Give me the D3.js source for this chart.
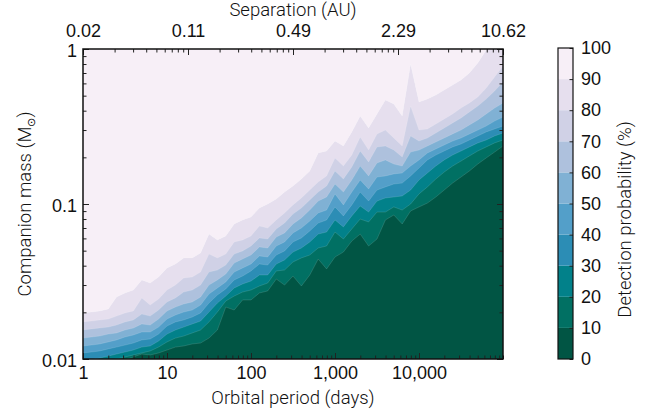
<!DOCTYPE html>
<html>
<head>
<meta charset="utf-8">
<script src="https://cdn.jsdelivr.net/npm/d3@7"></script>
<style>
  body { margin: 0; background: #fff; }
  svg { font-family: Roboto, "Liberation Sans", Arial, sans-serif; font-weight: 300; }
</style>
</head>
<body>
<figure style="margin:0"></figure>
<script>
// orbital periods (days) where the contour boundaries were read
const periods = [1, 1.26, 1.58, 2, 2.51, 3.16, 3.98, 5.01, 6.31, 7.94,
  10, 12.6, 15.8, 20, 25.1, 31.6, 39.8, 50.1, 63.1, 79.4,
  100, 126, 158, 200, 251, 316, 398, 501, 631, 794,
  1000, 1259, 1585, 1995, 2512, 3162, 3981, 5012, 6310, 7943,
  10000, 12589, 15849, 19953, 25119, 31623, 39811, 50119, 63096, 79433, 100000];

// log10 companion mass (Msun) of each probability contour
const logMass10 = [-2.168, -2.123, -2.084, -2.052, -2.026, -2.006, -1.987, -1.968, -1.974, -1.961,
  -1.942, -1.923, -1.916, -1.903, -1.897, -1.865, -1.813, -1.665, -1.684, -1.619,
  -1.619, -1.574, -1.561, -1.484, -1.523, -1.465, -1.529, -1.458, -1.355, -1.419,
  -1.342, -1.310, -1.239, -1.194, -1.271, -1.226, -1.103, -1.071, -1.129, -1.045,
  -1.019, -0.994, -0.955, -0.910, -0.865, -0.826, -0.787, -0.742, -0.703, -0.665, -0.626];
const logMass20 = [-2.077, -2.052, -2.032, -2.013, -2.000, -1.987, -1.974, -1.961, -1.948, -1.923,
  -1.890, -1.865, -1.852, -1.832, -1.813, -1.761, -1.697, -1.626, -1.594, -1.568,
  -1.555, -1.529, -1.510, -1.432, -1.426, -1.374, -1.348, -1.329, -1.284, -1.271,
  -1.181, -1.226, -1.161, -1.097, -1.116, -1.052, -1.052, -1.019, -1.039, -1.000,
  -0.935, -0.890, -0.839, -0.794, -0.755, -0.723, -0.690, -0.658, -0.632, -0.606, -0.587];
const logMass30 = [-2.013, -2.006, -1.994, -1.981, -1.968, -1.955, -1.942, -1.923, -1.916, -1.884,
  -1.839, -1.813, -1.794, -1.774, -1.755, -1.697, -1.639, -1.594, -1.542, -1.516,
  -1.497, -1.458, -1.458, -1.387, -1.361, -1.310, -1.284, -1.245, -1.194, -1.181,
  -1.103, -1.148, -1.077, -1.013, -1.052, -0.981, -0.961, -0.955, -0.948, -0.910,
  -0.845, -0.800, -0.755, -0.716, -0.684, -0.658, -0.632, -0.606, -0.587, -0.561, -0.542];
const logMass40 = [-1.961, -1.955, -1.948, -1.935, -1.923, -1.910, -1.897, -1.877, -1.871, -1.839,
  -1.787, -1.761, -1.748, -1.729, -1.703, -1.639, -1.587, -1.548, -1.490, -1.465,
  -1.432, -1.387, -1.394, -1.329, -1.303, -1.245, -1.219, -1.174, -1.123, -1.103,
  -1.019, -1.077, -1.006, -0.923, -0.981, -0.910, -0.890, -0.871, -0.865, -0.819,
  -0.768, -0.716, -0.684, -0.658, -0.632, -0.613, -0.587, -0.561, -0.535, -0.516, -0.497];
const logMass50 = [-1.916, -1.910, -1.903, -1.890, -1.877, -1.858, -1.845, -1.826, -1.826, -1.794,
  -1.742, -1.716, -1.697, -1.684, -1.652, -1.581, -1.542, -1.503, -1.439, -1.413,
  -1.387, -1.335, -1.342, -1.271, -1.245, -1.187, -1.155, -1.110, -1.058, -1.039,
  -0.935, -1.006, -0.923, -0.845, -0.903, -0.826, -0.819, -0.806, -0.800, -0.755,
  -0.716, -0.671, -0.645, -0.619, -0.594, -0.574, -0.548, -0.523, -0.497, -0.465, -0.439];
const logMass60 = [-1.865, -1.858, -1.852, -1.839, -1.832, -1.813, -1.800, -1.774, -1.781, -1.742,
  -1.690, -1.665, -1.645, -1.632, -1.600, -1.523, -1.490, -1.452, -1.381, -1.355,
  -1.329, -1.277, -1.284, -1.213, -1.187, -1.129, -1.090, -1.039, -0.981, -0.955,
  -0.871, -0.923, -0.845, -0.755, -0.819, -0.735, -0.716, -0.742, -0.755, -0.665,
  -0.652, -0.626, -0.600, -0.574, -0.548, -0.523, -0.490, -0.458, -0.419, -0.381, -0.348];
const logMass70 = [-1.813, -1.806, -1.800, -1.794, -1.781, -1.761, -1.748, -1.710, -1.723, -1.684,
  -1.632, -1.606, -1.568, -1.555, -1.523, -1.439, -1.426, -1.394, -1.323, -1.303,
  -1.271, -1.219, -1.226, -1.161, -1.123, -1.065, -1.026, -0.974, -0.923, -0.884,
  -0.787, -0.839, -0.761, -0.658, -0.729, -0.632, -0.626, -0.652, -0.697, -0.561,
  -0.594, -0.574, -0.542, -0.510, -0.477, -0.445, -0.406, -0.368, -0.323, -0.271, -0.213];
const logMass80 = [-1.761, -1.755, -1.748, -1.742, -1.723, -1.703, -1.690, -1.606, -1.652, -1.613,
  -1.555, -1.523, -1.477, -1.471, -1.439, -1.323, -1.348, -1.323, -1.245, -1.232,
  -1.206, -1.142, -1.155, -1.103, -1.058, -1.006, -0.961, -0.910, -0.858, -0.819,
  -0.703, -0.755, -0.684, -0.568, -0.652, -0.548, -0.523, -0.574, -0.626, -0.368,
  -0.523, -0.516, -0.484, -0.452, -0.419, -0.381, -0.348, -0.310, -0.252, -0.181, -0.110];
const logMass90 = [-1.703, -1.697, -1.690, -1.677, -1.600, -1.574, -1.555, -1.490, -1.510, -1.471,
  -1.413, -1.387, -1.348, -1.348, -1.316, -1.194, -1.232, -1.206, -1.129, -1.103,
  -1.084, -1.026, -1.000, -0.968, -0.923, -0.884, -0.839, -0.787, -0.671, -0.658,
  -0.594, -0.626, -0.535, -0.432, -0.510, -0.419, -0.329, -0.355, -0.432, -0.097,
  -0.342, -0.323, -0.297, -0.265, -0.232, -0.200, -0.155, -0.090, -0.006, 0.058, 0.123];

const levels = [0, 10, 20, 30, 40, 50, 60, 70, 80, 90, 100];

// axis ticks
const periodTicks = [1, 10, 100, 1000, 10000];
const periodLabels = ["1", "10", "100", "1,000", "10,000"];
const massTicks = [0.01, 0.1, 1];
const massLabels = ["0.01", "0.1", "1"];
const sepTicks = [1, 10, 100, 1000, 10000];
const sepLabels = ["0.02", "0.11", "0.49", "2.29", "10.62"];

// PuBuGn colorbrewer stops (used reversed)
const pubugn = ["#fff7fb", "#ece2f0", "#d0d1e6", "#a6bddb", "#67a9cf", "#3690c0", "#02818a", "#016c59", "#014636"];

const boundaries = [logMass10, logMass20, logMass30, logMass40, logMass50,
  logMass60, logMass70, logMass80, logMass90];

const drawChart = () => {
  const width = 654, height = 411;
  const plot = {left: 83, right: 503, top: 49, bottom: 359};
  const cbar = {left: 558, right: 573, top: 48, bottom: 359};

  const svg = d3.select("figure").append("svg")
      .attr("width", width)
      .attr("height", height);

  const x = d3.scaleLog().domain([1, 100000]).range([plot.left, plot.right]);
  const xTop = d3.scaleLog().domain([1, 10000]).range([plot.left, plot.right]);
  const y = d3.scaleLog().domain([0.01, 1]).range([plot.bottom, plot.top]);

  const cmap = d3.scaleLinear()
      .domain(pubugn.map((c, i) => i / (pubugn.length - 1)))
      .range(pubugn);
  // reversed map, colour taken at the middle of each band
  const bandColor = i => cmap(1 - (levels[i] + levels[i + 1]) / 200);

  svg.append("clipPath").attr("id", "plotclip")
    .append("rect")
      .attr("x", plot.left).attr("y", plot.top)
      .attr("width", plot.right - plot.left)
      .attr("height", plot.bottom - plot.top);

  const g = svg.append("g").attr("clip-path", "url(#plotclip)");

  // top band (90-100) sits above the 90% contour
  g.append("path")
      .attr("d", d3.area()
        .x((d, i) => x(periods[i]))
        .y0(plot.top - 5)
        .y1(d => y(Math.pow(10, d)))(logMass90))
      .attr("fill", bandColor(9));

  // fill below each contour, highest first
  for (let j = boundaries.length - 1; j >= 0; j--) {
    g.append("path")
        .attr("d", d3.area()
          .x((d, i) => x(periods[i]))
          .y0(plot.bottom + 5)
          .y1(d => y(Math.pow(10, d)))(boundaries[j]))
        .attr("fill", bandColor(j));
  }

  // faint seams along contour edges
  g.selectAll("path.seam")
    .data(boundaries)
    .join("path")
      .attr("class", "seam")
      .attr("d", d3.line().x((d, i) => x(periods[i])).y(d => y(Math.pow(10, d))))
      .attr("fill", "none")
      .attr("stroke", "#fff")
      .attr("stroke-opacity", 0.18)
      .attr("stroke-width", 0.7);

  const tickFont = "18px";
  const styleAxis = sel => {
    sel.select(".domain").remove();
    sel.selectAll(".tick line").attr("stroke", "#222").attr("stroke-width", 1);
    sel.selectAll(".tick text").attr("font-size", tickFont).attr("fill", "#111")
      .attr("font-family", null);
  };

  // bottom axis
  svg.append("g")
      .attr("transform", `translate(0,${plot.bottom})`)
      .call(d3.axisBottom(x).tickValues(x.ticks()).tickSize(-3.5).tickFormat(""))
      .call(styleAxis);
  svg.append("g")
      .attr("transform", `translate(0,${plot.bottom})`)
      .call(d3.axisBottom(x).tickValues(periodTicks).tickSize(-6).tickPadding(7)
        .tickFormat((d, i) => periodLabels[i]))
      .call(styleAxis);

  // top axis (separation)
  svg.append("g")
      .attr("transform", `translate(0,${plot.top})`)
      .call(d3.axisTop(xTop).tickValues(xTop.ticks()).tickSize(-3.5).tickFormat(""))
      .call(styleAxis);
  svg.append("g")
      .attr("transform", `translate(0,${plot.top})`)
      .call(d3.axisTop(xTop).tickValues(sepTicks).tickSize(-6).tickPadding(12)
        .tickFormat((d, i) => sepLabels[i]))
      .call(styleAxis);

  // left + right axes
  svg.append("g")
      .attr("transform", `translate(${plot.left},0)`)
      .call(d3.axisLeft(y).tickValues(y.ticks()).tickSize(-3.5).tickFormat(""))
      .call(styleAxis);
  svg.append("g")
      .attr("transform", `translate(${plot.left},0)`)
      .call(d3.axisLeft(y).tickValues(massTicks).tickSize(-6).tickPadding(6)
        .tickFormat((d, i) => massLabels[i]))
      .call(styleAxis)
      .call(sel => sel.selectAll(".tick text").attr("dy", "0.4em"));
  svg.append("g")
      .attr("transform", `translate(${plot.right},0)`)
      .call(d3.axisRight(y).tickValues(y.ticks()).tickSize(-3.5).tickFormat(""))
      .call(styleAxis);
  svg.append("g")
      .attr("transform", `translate(${plot.right},0)`)
      .call(d3.axisRight(y).tickValues(massTicks).tickSize(-6).tickFormat(""))
      .call(styleAxis);

  // frame
  svg.append("rect")
      .attr("x", plot.left).attr("y", plot.top)
      .attr("width", plot.right - plot.left)
      .attr("height", plot.bottom - plot.top)
      .attr("fill", "none")
      .attr("stroke", "#111")
      .attr("stroke-width", 1.5);

  // axis titles
  svg.append("text")
      .attr("x", (plot.left + plot.right) / 2).attr("y", 404)
      .attr("text-anchor", "middle").attr("font-size", "18.5px").attr("fill", "#111")
      .text("Orbital period (days)");
  svg.append("text")
      .attr("x", (plot.left + plot.right) / 2).attr("y", 16)
      .attr("text-anchor", "middle").attr("font-size", "18.5px").attr("fill", "#111")
      .text("Separation (AU)");
  const ylab = svg.append("text")
      .attr("transform", `translate(31,${(plot.top + plot.bottom) / 2}) rotate(-90)`)
      .attr("text-anchor", "middle").attr("font-size", "18.5px").attr("fill", "#111");
  ylab.append("tspan").text("Companion mass (M");
  ylab.append("tspan").attr("font-size", "11px").attr("dy", "4")
      .attr("font-family", "DejaVu Sans").text("\u2299");
  ylab.append("tspan").attr("dy", "-4").text(")");

  // colorbar
  const cb = d3.scaleLinear().domain([0, 100]).range([cbar.bottom, cbar.top]);
  svg.append("g").selectAll("rect")
    .data(levels.slice(0, -1))
    .join("rect")
      .attr("x", cbar.left)
      .attr("width", cbar.right - cbar.left)
      .attr("y", (d, i) => cb(levels[i + 1]))
      .attr("height", (d, i) => cb(d) - cb(levels[i + 1]))
      .attr("fill", (d, i) => bandColor(i));
  svg.append("g")
      .attr("transform", `translate(${cbar.right},0)`)
      .call(d3.axisRight(cb).tickValues(levels).tickSize(-3.5).tickPadding(8))
      .call(styleAxis);
  svg.append("rect")
      .attr("x", cbar.left).attr("y", cbar.top)
      .attr("width", cbar.right - cbar.left)
      .attr("height", cbar.bottom - cbar.top)
      .attr("fill", "none").attr("stroke", "#111").attr("stroke-width", 1.2);
  svg.append("text")
      .attr("transform", `translate(631,${(cbar.top + cbar.bottom) / 2 + 16}) rotate(-90)`)
      .attr("text-anchor", "middle").attr("font-size", "18.5px").attr("fill", "#111")
      .text("Detection probability (%)");

  return svg.node();
};

drawChart();
</script>
</body>
</html>
